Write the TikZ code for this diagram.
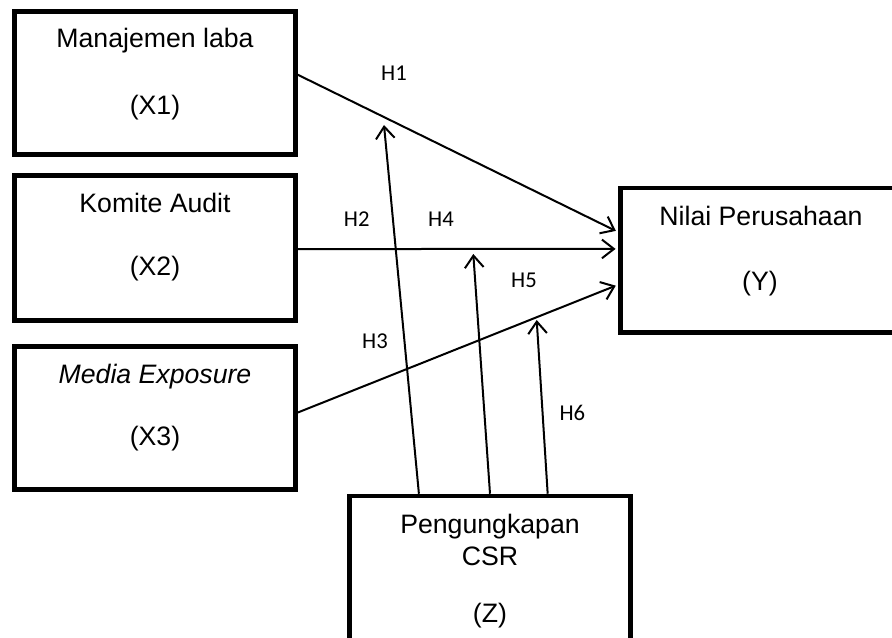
\documentclass[tikz,border=0pt]{standalone}
\usepackage{fontspec}
\setmainfont{Liberation Sans}
\newfontfamily\hfont{Carlito}
\usetikzlibrary{arrows.meta,calc,fit}
\begin{document}
\begin{tikzpicture}[x=0.75pt,y=-0.75pt,
  box/.style={draw,line width=3.4pt,inner sep=0pt,rectangle},
  lbl/.style={font=\fontsize{20}{24}\selectfont,anchor=base,inner sep=0pt},
  hyp/.style={font=\hfont\fontsize{17}{20}\selectfont,inner sep=0pt},
  conn/.style={line width=1.5pt,-{Straight Barb[length=9pt,width=14pt]}},
  toY/.style={conn,shorten >=2pt}]
\useasboundingbox (0,0) rectangle (892,638);
\clip (0,0) rectangle (892,638);

% boxes
\node[box,fit={(14.5,11.5) (295.5,154.5)}] (x1) {};
\node[box,fit={(14.5,175.5) (295.5,320.5)}] (x2) {};
\node[box,fit={(14.5,346.5) (295.5,489.5)}] (x3) {};
\node[box,fit={(620.5,188) (901,332.5)}] (y) {};
\node[box,fit={(349.5,496) (630.5,700)}] (z) {};

% box texts
\node[lbl] (t1a) at (155,48) {Manajemen laba};
\node[lbl] (t1b) at (155,115) {(X1)};
\node[lbl] (t2a) at (155,213) {Komite Audit};
\node[lbl] (t2b) at (155,275) {(X2)};
\node[lbl] (t3a) at (155,383) {\itshape Media Exposure};
\node[lbl] (t3b) at (155,445) {(X3)};
\node[lbl] (tya) at (761,225) {Nilai Perusahaan};
\node[lbl] (tyb) at (760,290) {(Y)};
\node[lbl] (tza) at (490,533) {Pengungkapan};
\node[lbl] (tzb) at (490,565) {CSR};
\node[lbl] (tzc) at (490,622) {(Z)};

% direct paths
\draw[toY] ($(x1.north east)!0.444!(x1.south east)$) -- ($(y.north west)!0.311!(y.south west)$);
\draw[toY] ($(x2.north east)!0.507!(x2.south east)$) -- ($(y.north west)!0.424!(y.south west)$);
\draw[toY] ($(x3.north east)!0.463!(x3.south east)$) -- ($(y.north west)!0.664!(y.south west)$);

% moderation targets
\coordinate (m1) at (384,125);
\coordinate (m2) at (473.3,254);
\coordinate (m3) at (536.7,320);
\draw[conn] ($(z.north west)!0.251!(z.north east)$) -- (m1);
\draw[conn] ($(z.north west)!0.5!(z.north east)$) -- (m2);
\draw[conn] ($(z.north west)!0.702!(z.north east)$) -- (m3);

% hypothesis labels
\node[hyp] (h1) at (394,73.3) {H1};
\node[hyp] (h2) at (356.7,219) {H2};
\node[hyp] (h4) at (441,219) {H4};
\node[hyp] (h5) at (524,280) {H5};
\node[hyp] (h3) at (375,341) {H3};
\node[hyp] (h6) at (572.3,412.7) {H6};
\end{tikzpicture}
\end{document}
